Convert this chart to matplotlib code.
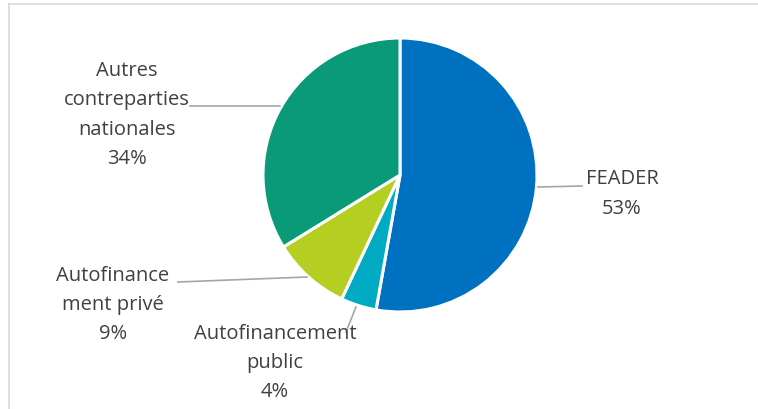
import matplotlib
matplotlib.use("Agg")
import matplotlib.pyplot as plt

categories = ["FEADER", "Autofinancement public", "Autofinancement privé", "Autres contreparties nationales"]
values = [52.8, 4.2, 9.2, 33.8]
label_texts = ["FEADER", "Autofinancement\npublic", "Autofinance\nment privé", "Autres\ncontreparties\nnationales"]
colors = ["#0070C0", "#00AAC3", "#B4CE21", "#0A9A77"]

W, H = 758, 409
fig = plt.figure(figsize=(W / 100, H / 100), dpi=100)
ax = fig.add_axes([0, 0, 1, 1])
ax.set_xlim(0, W)
ax.set_ylim(0, H)
ax.set_aspect("equal")
ax.axis("off")

def Y(py):
    return H - py

# chart frame
ax.plot([9, 9], [Y(4), Y(409)], color="#D9D9D9", lw=1.2)
ax.plot([9, W], [Y(4), Y(4)], color="#D9D9D9", lw=1.2)

cx, cy, r = 400, 175, 137
ax.pie(values, colors=colors, startangle=90, counterclock=False,
       center=(cx, Y(cy)), radius=r, frame=True,
       wedgeprops=dict(edgecolor="white", linewidth=2.2))
ax.set_xlim(0, W)
ax.set_ylim(0, H)
ax.axis("off")

font = dict(family=["Open Sans", "DejaVu Sans"], fontsize=14.5, color="#404040",
            ha="center", va="center", linespacing=1.62)

# label positions (pixel centers) and leader lines
label_pos = [(622, 194), (275, 363), (113, 305), (127, 115)]
leaders = [
    [(538, 187), (582, 186)],
    [(356, 307), (346, 332)],
    [(307, 277), (178, 282)],
    [(280, 106), (190, 106)],
]
total = sum(values)
for txt, v, (px, py), ld in zip(label_texts, values, label_pos, leaders):
    ax.text(px, Y(py), f"{txt}\n{round(v / total * 100):.0f}%", zorder=3, **font)
    xs = [p[0] for p in ld]
    ys = [Y(p[1]) for p in ld]
    ax.plot(xs, ys, color="#A6A6A6", lw=1.2, zorder=1)

fig.savefig("out.png", dpi=100)
